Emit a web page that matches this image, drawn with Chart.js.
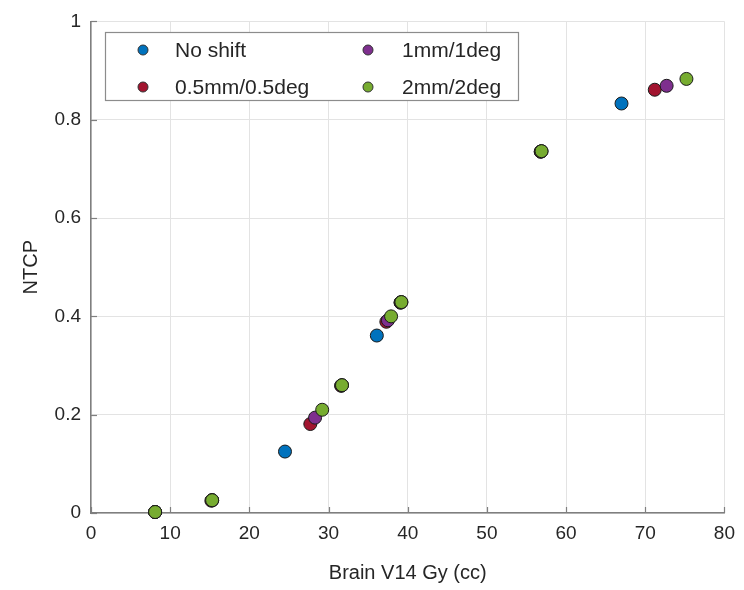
<!DOCTYPE html>
<html>
<head>
<meta charset="utf-8">
<script src="https://cdn.jsdelivr.net/npm/chart.js@4/dist/chart.umd.min.js"></script>
<style>
  html, body { margin: 0; padding: 0; background: #ffffff; }
  #wrap { width: 744px; height: 590px; position: relative; }
</style>
</head>
<body>
<div id="wrap"><canvas id="c" width="744" height="590"></canvas></div>
<script>
// ---- data ----
const seriesNames = ["No shift", "0.5mm/0.5deg", "1mm/1deg", "2mm/2deg"];
const noShiftX = [8.1, 15.3, 24.5, 31.6, 36.1, 39.1, 56.8, 67.0];
const noShiftY = [0.002, 0.026, 0.125, 0.259, 0.361, 0.428, 0.735, 0.833];
const halfX    = [8.1, 15.2, 27.7, 31.6, 37.3, 39.1, 56.8, 71.2];
const halfY    = [0.002, 0.025, 0.181, 0.259, 0.389, 0.428, 0.735, 0.861];
const oneX     = [8.1, 15.3, 28.3, 31.7, 37.5, 39.2, 56.9, 72.7];
const oneY     = [0.002, 0.026, 0.194, 0.260, 0.392, 0.429, 0.736, 0.869];
const twoX     = [8.1, 15.3, 29.2, 31.7, 37.9, 39.2, 56.9, 75.2];
const twoY     = [0.002, 0.026, 0.210, 0.260, 0.400, 0.429, 0.736, 0.883];
const xTicks = [0, 10, 20, 30, 40, 50, 60, 70, 80];
const yTicks = [0, 0.2, 0.4, 0.6, 0.8, 1];
const yTickLabels = ["0", "0.2", "0.4", "0.6", "0.8", "1"];
const xTitle = "Brain V14 Gy (cc)";
const yTitle = "NTCP";

const colors = ["#0072BD", "#A2142F", "#7E2F8E", "#77AC30"];
const FONT = "'Liberation Sans', Arial, Helvetica, sans-serif";
const TXT = "#262626";
const AXIS = "#7f7f7f";
const GRID = "#e3e3e3";

function pts(xs, ys) { return xs.map((x, i) => ({ x: x, y: ys[i] })); }
const allX = [noShiftX, halfX, oneX, twoX];
const allY = [noShiftY, halfY, oneY, twoY];

const datasets = seriesNames.map((name, i) => ({
  label: name,
  data: pts(allX[i], allY[i]),
  backgroundColor: colors[i],
  borderColor: "#1a1a1a",
  borderWidth: 1,
  pointRadius: 6.5,
  pointHoverRadius: 6.5,
  order: 4 - i,
  clip: false
}));

// inward tick marks + custom two-column legend
const decor = {
  id: "decor",
  afterDatasetsDraw(chart) {
    const ctx = chart.ctx;
    const xs = chart.scales.x, ys = chart.scales.y;
    const a = chart.chartArea;
    ctx.save();
    ctx.strokeStyle = AXIS;
    ctx.lineWidth = 1.2;
    xTicks.forEach(v => {
      const px = Math.round(xs.getPixelForValue(v)) + 0.5;
      ctx.beginPath(); ctx.moveTo(px, a.bottom); ctx.lineTo(px, a.bottom - 6); ctx.stroke();
    });
    yTicks.forEach(v => {
      const py = Math.round(ys.getPixelForValue(v)) + 0.5;
      ctx.beginPath(); ctx.moveTo(a.left, py); ctx.lineTo(a.left + 6, py); ctx.stroke();
    });
    // legend
    const bx = 105, by = 32, bw = 413, bh = 68;
    ctx.fillStyle = "#ffffff";
    ctx.fillRect(bx, by, bw, bh);
    ctx.strokeStyle = "#8c8c8c";
    ctx.lineWidth = 1.2;
    ctx.strokeRect(bx + 0.5, by + 0.5, bw, bh);
    const slots = [
      { mx: 143, tx: 175, y: 50 },
      { mx: 143, tx: 175, y: 87 },
      { mx: 368, tx: 402, y: 50 },
      { mx: 368, tx: 402, y: 87 }
    ];
    ctx.font = "21px " + FONT;
    ctx.textBaseline = "middle";
    ctx.textAlign = "left";
    seriesNames.forEach((n, i) => {
      const s = slots[i];
      ctx.beginPath();
      ctx.arc(s.mx, s.y, 5, 0, Math.PI * 2);
      ctx.fillStyle = colors[i];
      ctx.fill();
      ctx.lineWidth = 1;
      ctx.strokeStyle = "#333";
      ctx.stroke();
      ctx.fillStyle = TXT;
      ctx.fillText(n, s.tx, s.y + 1);
    });
    ctx.restore();
  }
};

new Chart(document.getElementById("c"), {
  type: "scatter",
  data: { datasets: datasets },
  options: {
    responsive: false,
    animation: false,
    devicePixelRatio: 1,
    layout: { padding: { top: 17, right: 17, left: 0, bottom: 0 } },
    plugins: { legend: { display: false }, tooltip: { enabled: false } },
    scales: {
      x: {
        type: "linear",
        min: 0, max: 80,
        afterFit(s) { s.height = 77; },
        afterBuildTicks(s) { s.ticks = xTicks.map(v => ({ value: v })); },
        grid: { color: GRID, lineWidth: 1, drawTicks: false },
        border: { display: true, color: AXIS, width: 1.5 },
        ticks: { color: TXT, font: { family: FONT, size: 19 }, padding: 9, maxRotation: 0 },
        title: { display: true, text: xTitle, color: TXT, font: { family: FONT, size: 20 }, padding: { top: 0, bottom: 5 } }
      },
      y: {
        type: "linear",
        min: 0, max: 1,
        afterFit(s) { s.width = 91; },
        afterBuildTicks(s) { s.ticks = yTicks.map(v => ({ value: v })); },
        grid: { color: GRID, lineWidth: 1, drawTicks: false },
        border: { display: true, color: AXIS, width: 1.5 },
        ticks: {
          color: TXT, font: { family: FONT, size: 19 }, padding: 10,
          callback(value, index) { return yTickLabels[index]; }
        },
        title: { display: true, text: yTitle, color: TXT, font: { family: FONT, size: 20 }, padding: { top: 19, bottom: 0 } }
      }
    }
  },
  plugins: [decor]
});
</script>
</body>
</html>
